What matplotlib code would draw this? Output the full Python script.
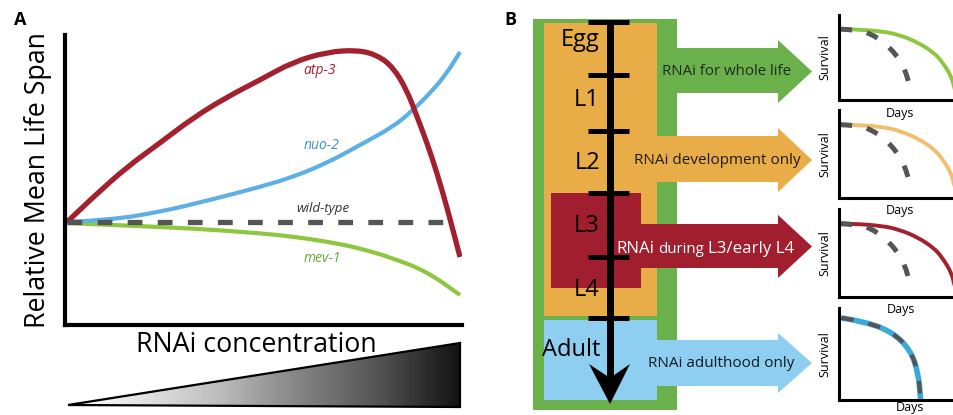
import matplotlib.pyplot as plt
import numpy as np
from matplotlib.patches import Polygon, Rectangle, PathPatch
from matplotlib.path import Path

plt.rcParams['font.family'] = ['Open Sans', 'DejaVu Sans']

W, H = 954, 415

# ---- panel A: schematic lifespan vs RNAi concentration (wild-type = 1.0)
atp3_x = [0.005, 0.071, 0.156, 0.239, 0.322, 0.408, 0.491, 0.574, 0.660, 0.736,
          0.786, 0.826, 0.861, 0.887, 0.912, 0.937, 0.962, 0.995]
atp3_y = [1.0, 1.125, 1.275, 1.395, 1.52, 1.625, 1.71, 1.80, 1.85, 1.86,
          1.835, 1.775, 1.66, 1.525, 1.395, 1.245, 1.075, 0.825]
nuo2_x = [0.005, 0.113, 0.239, 0.365, 0.491, 0.574, 0.660, 0.743, 0.826, 0.877,
          0.927, 0.962, 0.995]
nuo2_y = [1.0, 1.01, 1.05, 1.11, 1.175, 1.225, 1.295, 1.385, 1.475, 1.56,
          1.66, 1.745, 1.85]
mev1_x = [0.005, 0.156, 0.322, 0.491, 0.574, 0.660, 0.743, 0.826, 0.912, 0.995]
mev1_y = [0.995, 0.982, 0.968, 0.944, 0.927, 0.902, 0.869, 0.819, 0.752, 0.635]
wt_x = [0.005, 0.962]
wt_y = [1.0, 1.0]

# ---- panel B: treatment windows and survival sketches
stages = ['Egg', 'L1', 'L2', 'L3', 'L4', 'Adult']
treatments = ['RNAi for whole life', 'RNAi development only',
              'RNAi during L3/early L4', 'RNAi adulthood only']

# survival sketches (days scaled 0..1, fraction alive)
treated_days = [0.01, 0.12, 0.38, 0.53, 0.68, 0.82, 0.90, 0.98, 1.0, 1.04]
treated_surv = [1.0, 1.0, 0.97, 0.915, 0.817, 0.676, 0.535, 0.324, 0.18, 0.0]
wt_days = [0.01, 0.15, 0.27, 0.40, 0.50, 0.57, 0.62]
wt_surv = [1.0, 0.99, 0.944, 0.80, 0.634, 0.45, 0.17]
adult_days = [0.02, 0.24, 0.47, 0.62, 0.69, 0.71]
adult_surv = [1.0, 0.95, 0.82, 0.61, 0.33, 0.0]

GREEN = '#6AB14C'
ORANGE = '#E9AD48'
RED = '#A11E2E'
BLUE = '#8ECEF0'


def px_box(left, top, right, bottom):
    return [left / W, 1 - bottom / H, (right - left) / W, (bottom - top) / H]


def smooth_line(ax, xs, ys, **kw):
    # quadratic bezier through midpoints, so the sketch curves look drawn by hand
    pts = list(zip(xs, ys))
    verts, codes = [pts[0]], [Path.MOVETO]
    for i in range(1, len(pts) - 1):
        mid = ((pts[i][0] + pts[i + 1][0]) / 2, (pts[i][1] + pts[i + 1][1]) / 2)
        verts += [pts[i], mid]
        codes += [Path.CURVE3, Path.CURVE3]
    verts.append(pts[-1])
    codes.append(Path.LINETO)
    ax.add_patch(PathPatch(Path(verts, codes), fill=False, **kw))


fig = plt.figure(figsize=(W / 100, H / 100), dpi=100)
renderer = fig.canvas.get_renderer()

# overlay in pixel coordinates for the diagram parts
ax0 = fig.add_axes([0, 0, 1, 1])
ax0.axis('off')

# gradient wedge under panel A
grad = np.linspace(0.03, 0.93, 256).reshape(1, -1)
im = ax0.imshow(grad, extent=(68, 460, 407, 343), cmap='Greys', vmin=0, vmax=1,
                aspect='auto', zorder=1)
wedge = Polygon([(68, 405), (460, 343), (460, 407)], closed=True, fc='none',
                ec='black', lw=1.6, zorder=2)
ax0.add_patch(wedge)
im.set_clip_path(wedge)
ax0.set_xlim(0, W)
ax0.set_ylim(H, 0)

ax0.text(20, 20, 'A', fontsize=13, fontweight='bold', ha='center', va='center')
ax0.text(510, 20, 'B', fontsize=13, fontweight='bold', ha='center', va='center')
ax0.text(38, 180, 'Relative Mean Life Span', rotation=90, fontsize=19.3,
         ha='center', va='center')
ax0.text(256, 345, 'RNAi concentration', fontsize=19.3, ha='center', va='center')

# nested treatment boxes
ax0.add_patch(Rectangle((533, 19), 144, 391, color=GREEN, lw=0))
ax0.add_patch(Rectangle((544, 23), 113, 293, color=ORANGE, lw=0))
ax0.add_patch(Rectangle((544, 320), 113, 80, color=BLUE, lw=0))
ax0.add_patch(Rectangle((551, 193), 90, 95, color=RED, lw=0))


def block_arrow(x0, body_top, body_bot, head_top, head_bot, color):
    xb, tip = 778, 812
    mid = (head_top + head_bot) / 2
    pts = [(x0, body_top), (xb, body_top), (xb, head_top), (tip, mid),
           (xb, head_bot), (xb, body_bot), (x0, body_bot)]
    ax0.add_patch(Polygon(pts, closed=True, color=color, lw=0, zorder=2))
    return mid


m1 = block_arrow(670, 48, 93, 40, 103, GREEN)
m2 = block_arrow(655, 136, 182, 128, 192, ORANGE)
m3 = block_arrow(639, 224, 268, 215, 278, RED)
m4 = block_arrow(655, 340, 386, 333, 393, BLUE)

ax0.text(727, m1, treatments[0], fontsize=10.8, color='#1f2a1c', ha='center', va='center', zorder=5)
ax0.text(717, m2, treatments[1], fontsize=11, color='#1f1a10', ha='center', va='center', zorder=5)
ax0.text(721, m4, treatments[3], fontsize=11, color='#101a22', ha='center', va='center', zorder=5)

# the L3 label mixes sizes: "during" is set smaller
xpos = 616
for word, fs in [('RNAi', 12.2), ('during', 10.8), ('L3/early L4', 12.2)]:
    t = ax0.text(xpos, m3, word, fontsize=fs, color='white', ha='left',
                 va='baseline', zorder=5)
    t.set_y(m3 + 6)
    xpos = t.get_window_extent(renderer).x1 + 4

# developmental timeline
stage_bounds = [22, 75, 131, 193, 257, 318]
stage_mid = [40, 100, 163, 226, 290, 350]
ax0.plot([610, 610], [22, 385], color='black', lw=5, solid_capstyle='butt', zorder=4)
for yb in stage_bounds:
    ax0.plot([588, 629], [yb, yb], color='black', lw=3.6, solid_capstyle='butt', zorder=4)
ax0.add_patch(Polygon([(589, 364), (610, 378), (630, 364), (610, 404)],
                      closed=True, color='black', lw=0, zorder=4))
for name, ym in zip(stages, stage_mid):
    ax0.text(600, ym, name, fontsize=17, ha='right', va='center', zorder=5)

# panel A axes
axA = fig.add_axes(px_box(65, 35, 462, 325))
axA.set_facecolor('none')
axA.plot(wt_x, wt_y, color='#555555', lw=3.8, dashes=(2.8, 2.9),
         dash_capstyle='butt')
smooth_line(axA, mev1_x, mev1_y, edgecolor='#8DC63F', lw=3.0, capstyle='butt')
smooth_line(axA, nuo2_x, nuo2_y, edgecolor='#5DB0E5', lw=3.0, capstyle='butt')
smooth_line(axA, atp3_x, atp3_y, edgecolor='#A3202E', lw=3.8, capstyle='butt')
axA.set_xlim(0, 1)
axA.set_ylim(0.485, 1.935)
axA.text(0.642, 1.76, 'atp-3', color='#A3202E', style='italic', fontsize=10, ha='center', va='center')
axA.text(0.647, 1.385, 'nuo-2', color='#3F8FD0', style='italic', fontsize=10, ha='center', va='center')
axA.text(0.650, 1.07, 'wild-type', color='#333333', style='italic', fontsize=9.6, ha='center', va='center')
axA.text(0.647, 0.82, 'mev-1', color='#6AA532', style='italic', fontsize=10, ha='center', va='center')
for s in ['top', 'right']:
    axA.spines[s].set_visible(False)
for s in ['left', 'bottom']:
    axA.spines[s].set_linewidth(3)
axA.set_xticks([])
axA.set_yticks([])

# survival sketches
boxes = [(15, 100), (110, 198), (209, 297), (308, 400)]
colors = ['#8DC63F', '#F0BE6E', '#A3202E', '#3BA9DA']
days_x = [900, 900, 901, 910]
days_y = [113, 210, 309, 407]
for i, ((top, bot), c) in enumerate(zip(boxes, colors)):
    ax = fig.add_axes(px_box(839, top, 954, bot))
    ax.set_facecolor('none')
    if i < 3:
        smooth_line(ax, treated_days, treated_surv, edgecolor=c, lw=2.8, capstyle='butt')
        smooth_line(ax, wt_days, wt_surv, edgecolor='#555555', lw=3.6,
                    linestyle=(0, (2.4, 3.0)), capstyle='butt')
        ax.set_ylim(0, 1.2)
    else:
        smooth_line(ax, adult_days, adult_surv, edgecolor=c, lw=4.0, capstyle='butt')
        smooth_line(ax, adult_days, adult_surv, edgecolor='#555555', lw=3.0,
                    linestyle=(0, (3.0, 3.6)), capstyle='butt')
        ax.set_ylim(0, 1.12)
    ax.set_xlim(0, 1)
    for s in ['top', 'right']:
        ax.spines[s].set_visible(False)
    for s in ['left', 'bottom']:
        ax.spines[s].set_linewidth(2.2)
    ax.set_xticks([])
    ax.set_yticks([])
    ax0.text(825, (top + bot) / 2, 'Survival', rotation=90, fontsize=9,
             ha='center', va='center')
    ax0.text(days_x[i], days_y[i], 'Days', fontsize=9, ha='center', va='center')

fig.savefig('out.png', dpi=100)
